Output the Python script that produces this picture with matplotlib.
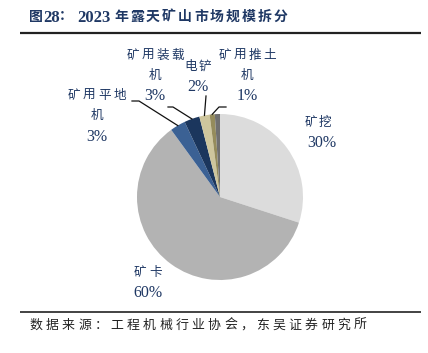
import matplotlib
matplotlib.use("Agg")
import matplotlib.pyplot as plt
import numpy as np

plt.rcParams["font.family"] = ["Liberation Serif", "Noto Sans CJK SC", "DejaVu Sans"]

# data
CATEGORIES = ["矿挖", "矿卡", "矿用平地机", "矿用装载机", "电铲", "矿用推土机", "其他"]
SHARES = [30, 60, 3, 3, 2, 1, 1]
COLORS = ["#DCDCDC", "#B3B3B3", "#3B6194", "#1B365D", "#CEC69D", "#958C5C", "#707070"]

TEXT_COLOR = "#1F3864"
W, H = 428, 353
CX, CY, R = 220, 197, 83  # pie centre and radius in pixels


def spaced(ax, x0, y, text, pitch, **kw):
    """Draw CJK text one glyph at a time; x0 is the centre of the first glyph."""
    kw = {"ha": "center", "va": "center", **kw}
    for i, ch in enumerate(text):
        ax.text(x0 + i * pitch, y, ch, **kw)


def centred(ax, xc, y, text, pitch, **kw):
    spaced(ax, xc - (len(text) - 1) / 2 * pitch, y, text, pitch, **kw)


def wedge_point(idx, r=1.0):
    cum = np.cumsum([0] + SHARES) / sum(SHARES)
    mid = (cum[idx] + cum[idx + 1]) / 2
    ang = np.deg2rad(90 - 360 * mid)
    return CX + R * r * np.cos(ang), CY - R * r * np.sin(ang)


fig = plt.figure(figsize=(W / 100, H / 100), dpi=100)

pie_ax = fig.add_axes([(CX - R) / W, (H - CY - R) / H, 2 * R / W, 2 * R / H])
pie_ax.pie(SHARES, colors=COLORS, startangle=90, counterclock=False,
           wedgeprops={"linewidth": 0})
pie_ax.set_xlim(-1, 1)
pie_ax.set_ylim(-1, 1)

canvas = fig.add_axes([0, 0, 1, 1])
canvas.set_xlim(0, W)
canvas.set_ylim(H, 0)
canvas.axis("off")

# title + rules
tkw = dict(color=TEXT_COLOR, fontweight="bold", fontsize=10, va="center")
canvas.text(36, 17, "图", ha="center", **tkw)
canvas.text(43, 17.5, "28", ha="left", **{**tkw, "fontsize": 12})
canvas.text(66, 17, "：", ha="center", **tkw)
canvas.text(77, 17.5, "2023", ha="left", **{**tkw, "fontsize": 12})
spaced(canvas, 121, 17, "年露天矿山市场规模拆分", 16, **tkw)
canvas.plot([20, 421], [33, 33], color="#222222", lw=1.6, solid_capstyle="butt")
canvas.plot([20, 421], [312, 312], color="#222222", lw=1.2, solid_capstyle="butt")
spaced(canvas, 36, 326, "数据来源：工程机械行业协会，东吴证券研究所", 16.2,
       color="#222222", fontsize=9.3)

# labels
lkw = dict(color=TEXT_COLOR, fontsize=9.1)
nkw = dict(color=TEXT_COLOR, fontsize=11.5, ha="center", va="center")

centred(canvas, 318, 123, "矿挖", 14, **lkw)
canvas.text(322, 143, f"{SHARES[0]}%", **nkw)

centred(canvas, 148, 273, "矿卡", 16, **lkw)
canvas.text(148, 293, f"{SHARES[1]}%", **nkw)

centred(canvas, 97, 96, "矿用平地", 15.5, **lkw)
centred(canvas, 97, 116, "机", 15, **lkw)
canvas.text(97, 137, f"{SHARES[2]}%", **nkw)

centred(canvas, 155, 56, "矿用装载", 15, **lkw)
centred(canvas, 155, 76, "机", 15, **lkw)
canvas.text(155, 96, f"{SHARES[3]}%", **nkw)

centred(canvas, 198, 67, "电铲", 14, **lkw)
canvas.text(198, 87, f"{SHARES[4]}%", **nkw)

centred(canvas, 247, 56, "矿用推土", 15, **lkw)
centred(canvas, 247, 76, "机", 15, **lkw)
canvas.text(247, 96, f"{SHARES[5]}%", **nkw)

# leader lines: label anchor -> elbow -> wedge edge
leaders = [
    (2, (132, 101), (139, 101)),
    (3, (168, 107), (173, 107)),
    (4, (206, 96), (206, 96)),
    (5, (226, 107), (219, 107)),
]
for idx, start, elbow in leaders:
    ex, ey = wedge_point(idx)
    canvas.plot([start[0], elbow[0], ex], [start[1], elbow[1], ey],
                color="#111111", lw=0.9)

fig.savefig("out.png", dpi=100)
